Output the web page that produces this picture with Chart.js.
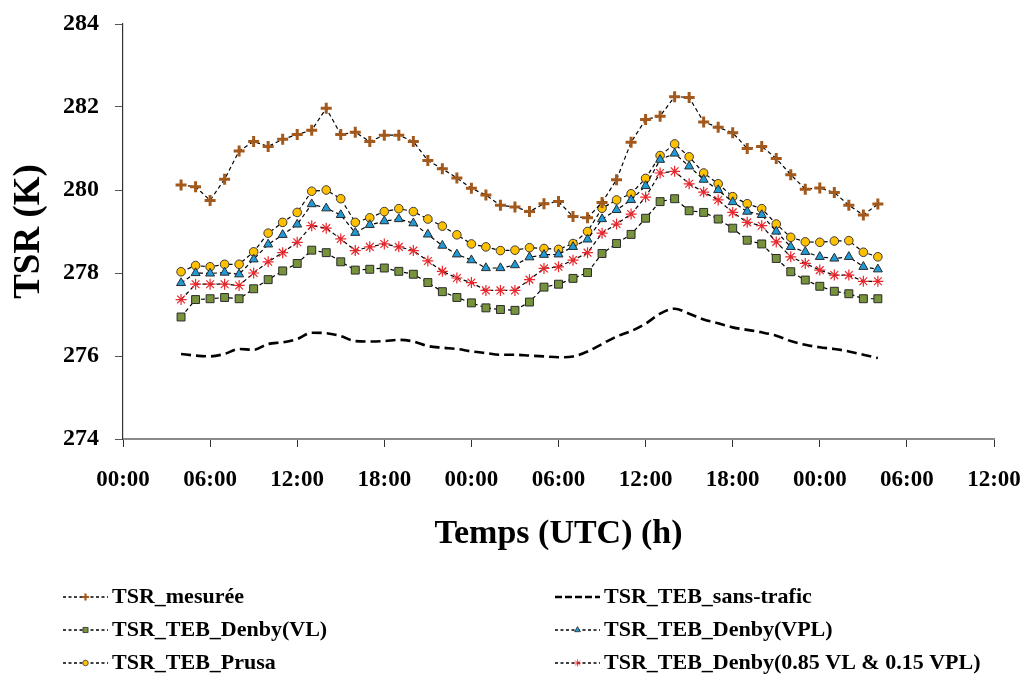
<!DOCTYPE html>
<html>
<head>
<meta charset="utf-8">
<script src="https://cdn.jsdelivr.net/npm/chart.js@4.4.1/dist/chart.umd.min.js"></script>
<style>
  html, body { margin: 0; padding: 0; background: #fff; }
  #wrap { width: 1033px; height: 677px; position: relative; }
</style>
</head>
<body>
<div id="wrap"><canvas id="tsrChart"></canvas></div>
<script>
// heures depuis 00:00 du premier jour
const hours = [4, 5, 6, 7, 8, 9, 10, 11, 12, 13, 14, 15, 16, 17, 18, 19, 20, 21, 22, 23,
    24, 25, 26, 27, 28, 29, 30, 31, 32, 33, 34, 35, 36, 37, 38, 39, 40, 41, 42, 43,
    44, 45, 46, 47, 48, 49, 50, 51, 52];

const xTickLabels = ['00:00', '06:00', '12:00', '18:00', '00:00', '06:00', '12:00', '18:00', '00:00', '06:00', '12:00'];

const tsrMesuree = [280.12, 280.08, 279.75, 280.26, 280.94, 281.17, 281.05, 281.22, 281.34, 281.44,
    281.97, 281.34, 281.39, 281.17, 281.32, 281.32, 281.17, 280.71, 280.51,
    280.29, 280.04, 279.88, 279.63, 279.59, 279.48, 279.67, 279.72, 279.36, 279.33,
    279.70, 280.25, 281.15, 281.70, 281.78, 282.25, 282.23, 281.64,
    281.51, 281.38, 281.00, 281.05, 280.76, 280.37, 280.02, 280.05, 279.94, 279.63, 279.40, 279.66];

const tsrSansTrafic = [276.05, 276.01, 275.99, 276.05, 276.17, 276.15, 276.29, 276.33, 276.41, 276.56,
    276.55, 276.48, 276.36, 276.35, 276.36, 276.39, 276.35, 276.24, 276.20,
    276.17, 276.11, 276.07, 276.03, 276.03, 276.01, 275.99, 275.97, 275.99, 276.11,
    276.29, 276.47, 276.60, 276.78, 277.02, 277.14, 277.02, 276.88,
    276.79, 276.69, 276.63, 276.57, 276.49, 276.36, 276.27, 276.21, 276.17, 276.11, 276.03, 275.95];

const tsrDenbyVL = [276.94, 277.36, 277.38, 277.41, 277.38, 277.62, 277.84, 278.05, 278.23, 278.55,
    278.49, 278.27, 278.07, 278.09, 278.12, 278.04, 277.97, 277.77, 277.55,
    277.41, 277.28, 277.16, 277.12, 277.10, 277.30, 277.66, 277.73, 277.87, 278.01,
    278.47, 278.71, 278.93, 279.32, 279.72, 279.79, 279.50, 279.46,
    279.30, 279.08, 278.79, 278.70, 278.35, 278.03, 277.83, 277.68, 277.56, 277.50, 277.38, 277.38];

const tsrDenbyVPL = [277.76, 278.00, 277.99, 278.01, 277.97, 278.33, 278.69, 278.92, 279.17, 279.66,
    279.56, 279.40, 278.97, 279.16, 279.25, 279.30, 279.20, 278.93, 278.66,
    278.45, 278.31, 278.12, 278.12, 278.19, 278.38, 278.44, 278.45, 278.63, 278.81,
    279.30, 279.52, 279.76, 280.10, 280.73, 280.88, 280.57, 280.25,
    280.00, 279.71, 279.48, 279.40, 279.00, 278.63, 278.51, 278.39, 278.35, 278.39, 278.15, 278.09];

const tsrPrusa = [278.03, 278.18, 278.15, 278.21, 278.21, 278.51, 278.96, 279.22, 279.46, 279.97,
    280.00, 279.79, 279.22, 279.33, 279.48, 279.55, 279.48, 279.30, 279.13,
    278.92, 278.70, 278.63, 278.54, 278.55, 278.61, 278.59, 278.57, 278.71, 279.00,
    279.56, 279.76, 279.91, 280.28, 280.83, 281.11, 280.80, 280.41,
    280.15, 279.84, 279.67, 279.55, 279.18, 278.86, 278.75, 278.74, 278.77, 278.78, 278.50, 278.39];

const tsrDenbyMix = [277.36, 277.73, 277.73, 277.73, 277.70, 278.00, 278.27, 278.49, 278.74, 279.14,
    279.08, 278.82, 278.54, 278.63, 278.70, 278.63, 278.54, 278.29, 278.04,
    277.88, 277.77, 277.58, 277.58, 277.58, 277.84, 278.11, 278.15, 278.31, 278.49,
    278.96, 279.18, 279.42, 279.83, 280.41, 280.45, 280.15, 279.95,
    279.76, 279.46, 279.22, 279.14, 278.75, 278.39, 278.23, 278.07, 277.95, 277.95, 277.80, 277.80];

const serif = '"Liberation Serif", "Times New Roman", serif';

function pts(values) {
    return values.map((v, i) => ({ x: hours[i], y: v }));
}

function serie(label, values, style) {
    return Object.assign({
        label: label,
        data: pts(values),
        borderColor: '#000',
        borderWidth: 1.2,
        borderDash: [4, 3],
        fill: false,
        tension: 0,
        pointHoverRadius: 0
    }, style);
}

const datasets = [
    serie('TSR_mesurée', tsrMesuree, {
        pointStyle: 'cross', pointRadius: 5.5, pointBorderWidth: 3,
        pointBorderColor: '#a3581c', pointBackgroundColor: '#a3581c'
    }),
    serie('TSR_TEB_sans-trafic', tsrSansTrafic, {
        borderWidth: 2.6, borderDash: [10, 5], pointRadius: 0,
        cubicInterpolationMode: 'monotone'
    }),
    serie('TSR_TEB_Denby(VL)', tsrDenbyVL, {
        pointStyle: 'rect', pointRadius: 5.6, pointBorderWidth: 1,
        pointBorderColor: '#2b2b2b', pointBackgroundColor: '#77933c'
    }),
    serie('TSR_TEB_Denby(VPL)', tsrDenbyVPL, {
        pointStyle: 'triangle', pointRadius: 5.2, pointBorderWidth: 1,
        pointBorderColor: '#2b2b2b', pointBackgroundColor: '#1f9bd7'
    }),
    serie('TSR_TEB_Prusa', tsrPrusa, {
        pointStyle: 'circle', pointRadius: 4.3, pointBorderWidth: 1,
        pointBorderColor: '#3a3a3a', pointBackgroundColor: '#ffc000'
    }),
    serie('TSR_TEB_Denby(0.85 VL & 0.15 VPL)', tsrDenbyMix, {
        pointStyle: 'star', pointRadius: 5.5, pointBorderWidth: 1.2,
        pointBorderColor: '#e8282c', pointBackgroundColor: '#e8282c'
    })
];

// legende en deux colonnes, dessinee sous le graphique
const twoColLegend = {
    id: 'twoColLegend',
    afterDraw(chart) {
        const ctx = chart.ctx;
        const colX = [63, 555];
        const rowY = [597, 630, 663];
        ctx.save();
        ctx.font = 'bold 22px ' + serif;
        ctx.textBaseline = 'middle';
        ctx.fillStyle = '#000';
        chart.data.datasets.forEach((ds, i) => {
            const x0 = colX[i % 2];
            const y = rowY[Math.floor(i / 2)];
            const w = 45;
            ctx.beginPath();
            ctx.strokeStyle = '#000';
            if (ds.pointRadius === 0) {
                ctx.lineWidth = 2.6;
                ctx.setLineDash([7, 3]);
            } else {
                ctx.lineWidth = 1.4;
                ctx.setLineDash([3, 2.5]);
            }
            ctx.moveTo(x0, y);
            ctx.lineTo(x0 + w, y);
            ctx.stroke();
            ctx.setLineDash([]);
            if (ds.pointRadius > 0) {
                ctx.fillStyle = ds.pointBackgroundColor;
                ctx.strokeStyle = ds.pointBorderColor;
                ctx.lineWidth = ds.pointStyle === 'cross' ? 2.2 : 0.8;
                Chart.helpers.drawPoint(ctx, {
                    pointStyle: ds.pointStyle,
                    radius: ds.pointRadius * 0.65,
                    rotation: 0,
                    borderWidth: ctx.lineWidth
                }, x0 + w / 2, y);
            }
            ctx.fillStyle = '#000';
            ctx.fillText(ds.label, x0 + w + 4, y);
        });
        ctx.restore();
    }
};

const tsrCanvas = document.getElementById('tsrChart');

new Chart(tsrCanvas, {
    type: 'line',
    data: { datasets: datasets },
    plugins: [twoColLegend],
    options: {
        responsive: true,
        maintainAspectRatio: false,
        animation: false,
        layout: { padding: { top: 24, right: 39, bottom: 110, left: 0 } },
        plugins: {
            legend: { display: false },
            tooltip: { enabled: false }
        },
        scales: {
            x: {
                type: 'linear',
                min: 0,
                max: 60,
                afterFit(scale) {
                    scale.height = 128;
                    scale.paddingLeft = 0;
                    scale.paddingRight = 0;
                },
                afterBuildTicks(scale) {
                    scale.ticks = xTickLabels.map((t, i) => ({ value: i * 6 }));
                },
                ticks: {
                    autoSkip: false,
                    maxRotation: 0,
                    padding: 19,
                    color: '#000',
                    font: { family: serif, size: 23, weight: 'bold' },
                    callback: (v, i) => xTickLabels[i]
                },
                grid: {
                    drawOnChartArea: false,
                    tickLength: 8,
                    tickColor: '#333',
                    tickWidth: 1
                },
                border: { color: '#8a8a8a', width: 2 },
                title: {
                    display: true,
                    text: 'Temps (UTC) (h)',
                    color: '#000',
                    font: { family: serif, size: 34, weight: 'bold' },
                    padding: { top: 0, bottom: 12 }
                }
            },
            y: {
                min: 274,
                max: 284,
                afterFit(scale) {
                    scale.width = 123;
                    scale.paddingTop = 0;
                    scale.paddingBottom = 0;
                },
                ticks: {
                    stepSize: 2,
                    padding: 16,
                    color: '#000',
                    font: { family: serif, size: 24, weight: 'bold' }
                },
                grid: {
                    drawOnChartArea: false,
                    tickLength: 8,
                    tickColor: '#555',
                    tickWidth: 1
                },
                border: { color: '#333', width: 1.2 },
                title: {
                    display: true,
                    text: 'TSR (K)',
                    color: '#000',
                    font: { family: serif, size: 37, weight: 'bold' },
                    padding: { top: 7, bottom: 0 }
                }
            }
        }
    }
});
</script>
</body>
</html>
